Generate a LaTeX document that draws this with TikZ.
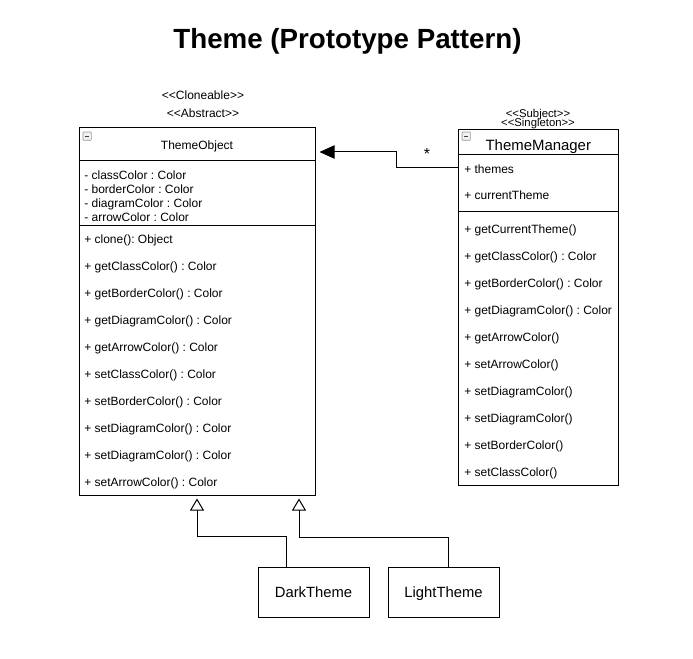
\documentclass[tikz,border=0pt]{standalone}
\usepackage{fontspec}
\setmainfont{Liberation Sans}
\usetikzlibrary{arrows.meta,fit}
\frenchspacing
\begin{document}
\begin{tikzpicture}[x=0.75pt,y=-0.75pt,
  box/.style={draw, line width=0.75pt, inner sep=0pt},
  sepline/.style={line width=0.75pt},
  member/.style={anchor=base west, inner sep=0pt, font=\fontsize{9}{10}\selectfont},
  stereo/.style={anchor=base, inner sep=0pt, font=\fontsize{9}{10}\selectfont},
  smallstereo/.style={anchor=base, inner sep=0pt, font=\fontsize{8.5}{9}\selectfont},
  icon/.style={draw=gray!80, fill=gray!12, line width=0.5pt, minimum size=6.2pt, inner sep=0pt, rounded corners=0.5pt,
    path picture={\draw[line width=0.8pt,black!75] ([xshift=1.4pt]path picture bounding box.west) -- ([xshift=-1.4pt]path picture bounding box.east);}},
  subbox/.style={draw, line width=0.75pt, minimum width=83.25pt, minimum height=37.5pt, inner sep=0pt,
    text height=7.95pt, text depth=0pt, font=\fontsize{11.1}{13}\selectfont},
  assoc/.style={line width=0.75pt, -{Triangle[length=11.25pt,width=10pt]}, shorten >=3pt},
  gen/.style={line width=0.75pt, -{Triangle[open,length=9pt,width=10.5pt,fill=white]}, shorten >=2.25pt},
]
\useasboundingbox (0,0) rectangle (693,659);

% title
\node[anchor=base, inner sep=0pt, font=\fontsize{20.8}{24}\selectfont\bfseries] (title) at (347.5,49) {Theme (Prototype Pattern)};

% ThemeObject
\node[stereo] (st1) at (203,99.3) {<{}<Cloneable>{}>};
\node[stereo] (st2) at (203,117.3) {<{}<Abstract>{}>};
\node[box, fit={(79,128) (315,495)}] (to) {};
\node[icon] (toicon) at (87.2,136.2) {};
\node[anchor=base, inner sep=0pt, font=\fontsize{9}{10}\selectfont] (toname) at (197,149.3) {ThemeObject};
\draw[sepline] (to.west |- 0,161) -- (to.east |- 0,161);
\draw[sepline] (to.west |- 0,226) -- (to.east |- 0,226);
\node[member] (a1) at (84,180.0) {- classColor : Color};
\node[member] (a2) at (84,193.8) {- borderColor : Color};
\node[member] (a3) at (84,207.6) {- diagramColor : Color};
\node[member] (a4) at (84,221.4) {- arrowColor : Color};
\node[member] (m1) at (84,243.3) {+ clone(): Object};
\node[member] (m2) at (84,270.3) {+ getClassColor() : Color};
\node[member] (m3) at (84,297.3) {+ getBorderColor() : Color};
\node[member] (m4) at (84,324.3) {+ getDiagramColor() : Color};
\node[member] (m5) at (84,351.3) {+ getArrowColor() : Color};
\node[member] (m6) at (84,378.3) {+ setClassColor() : Color};
\node[member] (m7) at (84,405.3) {+ setBorderColor() : Color};
\node[member] (m8) at (84,432.3) {+ setDiagramColor() : Color};
\node[member] (m9) at (84,459.3) {+ setDiagramColor() : Color};
\node[member] (m10) at (84,486.3) {+ setArrowColor() : Color};

% ThemeManager
\node[smallstereo] (st3) at (538,117.3) {<{}<Subject>{}>};
\node[smallstereo] (st4) at (538,126.8) {<{}<Singleton>{}>};
\node[box, fit={(458,130) (618,485)}] (tm) {};
\node[icon] (tmicon) at (466.2,136.2) {};
\node[anchor=base, inner sep=0pt, font=\fontsize{11.2}{13}\selectfont] (tmname) at (538.3,150.3) {ThemeManager};
\draw[sepline] (tm.west |- 0,155) -- (tm.east |- 0,155);
\draw[sepline] (tm.west |- 0,211.5) -- (tm.east |- 0,211.5);
\node[member] (t1) at (464,173.6) {+ themes};
\node[member] (t2) at (464,199.3) {+ currentTheme};
\node[member] (n1) at (464,233.6) {+ getCurrentTheme()};
\node[member] (n2) at (464,260.6) {+ getClassColor() : Color};
\node[member] (n3) at (464,287.6) {+ getBorderColor() : Color};
\node[member] (n4) at (464,314.6) {+ getDiagramColor() : Color};
\node[member] (n5) at (464,341.6) {+ getArrowColor()};
\node[member] (n6) at (464,368.6) {+ setArrowColor()};
\node[member] (n7) at (464,395.6) {+ setDiagramColor()};
\node[member] (n8) at (464,422.6) {+ setDiagramColor()};
\node[member] (n9) at (464,449.6) {+ setBorderColor()};
\node[member] (n10) at (464,476.6) {+ setClassColor()};

% subclasses
\node[subbox] (dt) at (313.5,592) {DarkTheme};
\node[subbox] (lt) at (443.5,592) {LightTheme};

% association
\draw[assoc] (tm.west |- 0,168) -- ++(-61,0) |- (to.east |- 0,152);
\node[inner sep=0pt, font=\fontsize{12}{14}\selectfont] (star) at (427,154) {*};

% generalizations
\draw[gen] (dt.north -| 286,0) |- (197,536) -- (to.south -| 197,0);
\draw[gen] (lt.north -| 448,0) |- (299,537) -- (to.south -| 299,0);
\end{tikzpicture}
\end{document}
